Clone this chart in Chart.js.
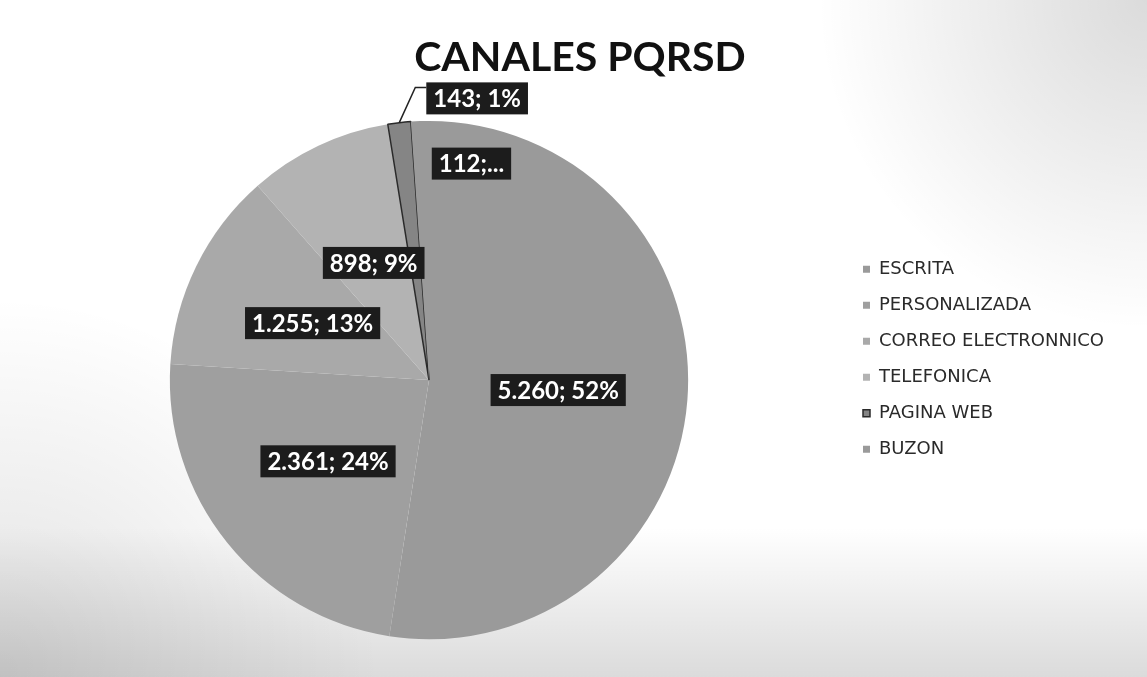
<!DOCTYPE html>
<html>
<head>
<meta charset="utf-8">
<script src="https://cdn.jsdelivr.net/npm/chart.js@4.4.1/dist/chart.umd.min.js"></script>
<style>
  html, body { margin: 0; padding: 0; background: #fff; }
  #wrap { width: 1147px; height: 677px; position: relative; }
  canvas { display: block; }
</style>
</head>
<body>
<div id="wrap"><canvas id="c"></canvas></div>
<script>
// ---- data ----
const chartTitle = 'CANALES PQRSD';
const categories = ['ESCRITA', 'PERSONALIZADA', 'CORREO ELECTRONNICO', 'TELEFONICA', 'PAGINA WEB', 'BUZON'];
const values = [5260, 2361, 1255, 898, 143, 112];

// ---- styles ----
const sliceColors = ['#9a9a9a', '#9f9f9f', '#a9a9a9', '#b3b3b3', '#858585', '#9a9a9a'];
const sliceBorderColors = ['#9a9a9a', '#9f9f9f', '#a9a9a9', '#b3b3b3', '#2a2a2a', '#9a9a9a'];
const sliceBorderWidths = [0, 0, 0, 0, 1.5, 0];

function fmtThousands(v) {
  return String(v).replace(/\B(?=(\d{3})+(?!\d))/g, '.');
}

// paper background (scanned look)
const paperPlugin = {
  id: 'paper',
  beforeDraw(chart) {
    const { ctx, width, height } = chart;
    ctx.save();
    ctx.fillStyle = '#ffffff';
    ctx.fillRect(0, 0, width, height);
    let g = ctx.createLinearGradient(0, height - 150, 0, height);
    g.addColorStop(0, 'rgba(0,0,0,0)');
    g.addColorStop(1, 'rgba(0,0,0,0.14)');
    ctx.fillStyle = g;
    ctx.fillRect(0, height - 150, width, 150);
    g = ctx.createRadialGradient(width, 0, 0, width, 0, 330);
    g.addColorStop(0, 'rgba(0,0,0,0.14)');
    g.addColorStop(1, 'rgba(0,0,0,0)');
    ctx.fillStyle = g;
    ctx.fillRect(width - 330, 0, 330, 330);
    g = ctx.createRadialGradient(0, height, 0, 0, height, 380);
    g.addColorStop(0, 'rgba(0,0,0,0.12)');
    g.addColorStop(1, 'rgba(0,0,0,0)');
    ctx.fillStyle = g;
    ctx.fillRect(0, height - 380, 380, 380);
    ctx.restore();
  }
};

// fixes the legend column width so that legend / title / pie line up like the source
const legendSizer = {
  id: 'legendSizer',
  beforeLayout(chart, args, opts) {
    const lg = chart.legend;
    if (lg && !lg.__sized) {
      const fit = lg.fit;
      lg.fit = function () {
        fit.call(this);
        if (!this.isHorizontal()) this.width = opts.width;
      };
      lg.__sized = true;
    }
  }
};

// Excel-like data labels: "value; pct%" in dark boxes
const pieLabels = {
  id: 'pieLabels',
  afterDatasetsDraw(chart, args, opts) {
    const meta = chart.getDatasetMeta(0);
    const data = chart.data.datasets[0].data;
    const total = data.reduce((a, b) => a + b, 0);
    const ctx = chart.ctx;
    ctx.save();
    ctx.font = opts.font;
    ctx.textAlign = 'center';
    ctx.textBaseline = 'middle';
    meta.data.forEach((arc, i) => {
      const v = data[i];
      const pct = Math.round(v / total * 100);
      let text = fmtThousands(v) + '; ' + pct + '%';
      if (opts.truncated.includes(i)) text = fmtThousands(v) + ';...';
      const c = arc.getCenterPoint();
      const off = opts.offsets[i] || [0, 0];
      const x = c.x + off[0];
      const y = c.y + off[1];
      const w = ctx.measureText(text).width + opts.padX * 2;
      const h = opts.boxH;
      if (opts.leaders.includes(i)) {
        const p = arc.getProps(['x', 'y', 'startAngle', 'endAngle', 'outerRadius']);
        const mid = (p.startAngle + p.endAngle) / 2;
        const ax = p.x + Math.cos(mid) * p.outerRadius;
        const ay = p.y + Math.sin(mid) * p.outerRadius;
        ctx.strokeStyle = '#222';
        ctx.lineWidth = 1.5;
        ctx.beginPath();
        ctx.moveTo(ax, ay);
        ctx.lineTo(x - w / 2 - 11, y - h / 2 + 5);
        ctx.lineTo(x - w / 2, y - h / 2 + 5);
        ctx.stroke();
      }
      ctx.fillStyle = '#1c1c1c';
      ctx.fillRect(x - w / 2, y - h / 2, w, h);
      ctx.fillStyle = '#ffffff';
      ctx.fillText(text, x, y + 1);
    });
    ctx.restore();
  }
};

new Chart(document.getElementById('c'), {
  type: 'pie',
  data: {
    labels: categories,
    datasets: [{
      data: values,
      backgroundColor: sliceColors,
      borderColor: sliceBorderColors,
      borderWidth: sliceBorderWidths
    }]
  },
  plugins: [paperPlugin, legendSizer, pieLabels],
  options: {
    responsive: true,
    maintainAspectRatio: false,
    animation: false,
    layout: { padding: { left: 13, right: 0, top: 0, bottom: 37 } },
    plugins: {
      tooltip: { enabled: false },
      title: {
        display: true,
        text: chartTitle,
        color: '#111',
        font: { family: 'Lato', size: 41, weight: 'bold', lineHeight: 1.2 },
        padding: { top: 33, bottom: 38 }
      },
      legend: {
        position: 'right',
        align: 'start',
        fullSize: false,
        title: { display: true, text: ' ', font: { size: 1, lineHeight: 1 }, padding: { top: 61, bottom: 60 } },
        labels: {
          boxWidth: 7,
          boxHeight: 7,
          padding: 18,
          color: '#2a2a2a',
          font: { family: 'DejaVu Sans', size: 18 }
        }
      },
      legendSizer: { width: 302 },
      pieLabels: {
        font: 'bold 24px Lato',
        padX: 7,
        boxH: 32,
        truncated: [5],
        leaders: [4],
        offsets: [[0, 0], [0, 0], [0, 0], [0, 0], [63, -153], [47, -87]]
      }
    }
  }
});
</script>
</body>
</html>
